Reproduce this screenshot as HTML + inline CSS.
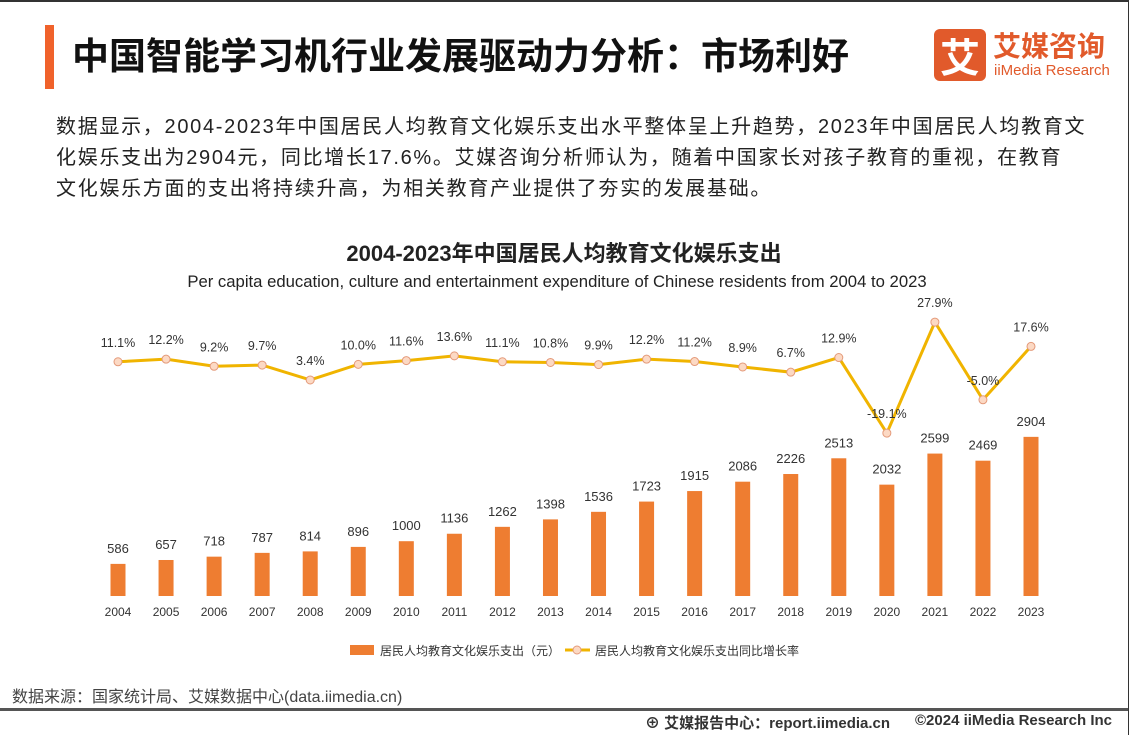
<!DOCTYPE html>
<html><head><meta charset="utf-8"><style>
body{margin:0;width:1134px;height:735px;background:#fff;position:relative;overflow:hidden;font-family:"Liberation Sans","Noto Sans CJK SC",sans-serif;color:#222}
.abs{position:absolute}
</style></head><body>
<div class="abs" style="left:0;top:0;width:1134px;height:2px;background:#333"></div>
<div class="abs" style="left:1128px;top:0;width:6px;height:735px;background:#fff;border-left:1px solid #333"></div>
<div class="abs" style="left:45px;top:25px;width:9px;height:64px;background:#f0622b"></div>
<div class="abs" style="left:72px;top:26px;font-size:37px;font-weight:bold;color:#111;white-space:nowrap;font-family:'Noto Sans CJK SC',sans-serif">中国智能学习机行业发展驱动力分析：市场利好</div>
<div class="abs" style="left:934px;top:29px;width:52px;height:52px;background:#e15a2b;border-radius:6px;color:#fff;font-size:40px;font-weight:bold;text-align:center;line-height:52px;font-family:'Noto Sans CJK SC',sans-serif">艾</div>
<div class="abs" style="left:993px;top:27px;font-size:28px;font-weight:bold;color:#e15a2b;font-family:'Noto Sans CJK SC',sans-serif;line-height:36px">艾媒咨询</div>
<div class="abs" style="left:994px;top:62px;font-size:15px;color:#e15a2b;line-height:18px">iiMedia Research</div>
<div class="abs" style="left:56px;top:112px;width:1070px;white-space:nowrap;font-size:20px;letter-spacing:1.7px;line-height:31px;color:#222;font-family:'Liberation Sans','Noto Sans CJK SC',sans-serif">数据显示，2004-2023年中国居民人均教育文化娱乐支出水平整体呈上升趋势，2023年中国居民人均教育文<br>化娱乐支出为2904元，同比增长17.6%。艾媒咨询分析师认为，随着中国家长对孩子教育的重视，在教育<br>文化娱乐方面的支出将持续升高，为相关教育产业提供了夯实的发展基础。</div>
<div class="abs" style="left:0;width:1128px;top:236px;text-align:center;font-size:22px;font-weight:bold;color:#222">2004-2023年中国居民人均教育文化娱乐支出</div>
<div class="abs" style="left:0;width:1114px;top:272px;text-align:center;font-size:16.7px;color:#222">Per capita education, culture and entertainment expenditure of Chinese residents from 2004 to 2023</div>
<svg class="abs" style="left:0;top:0" width="1134" height="735" id="chart"></svg>
<div class="abs" style="left:12px;top:683px;font-size:16px;color:#444">数据来源：国家统计局、艾媒数据中心(data.iimedia.cn)</div>
<div class="abs" style="left:0;top:708px;width:1128px;height:3px;background:#555"></div>
<div class="abs" style="left:645px;top:712px;font-size:15px;color:#333;font-weight:bold">⊕ 艾媒报告中心：report.iimedia.cn</div>
<div class="abs" style="left:915px;top:712px;font-size:15px;color:#333;font-weight:bold">©2024 iiMedia Research Inc</div>
<script>
const years=["2004","2005","2006","2007","2008","2009","2010","2011","2012","2013","2014","2015","2016","2017","2018","2019","2020","2021","2022","2023"];
const spend=[586,657,718,787,814,896,1000,1136,1262,1398,1536,1723,1915,2086,2226,2513,2032,2599,2469,2904];
const growth=[11.1,12.2,9.2,9.7,3.4,10.0,11.6,13.6,11.1,10.8,9.9,12.2,11.2,8.9,6.7,12.9,-19.1,27.9,-5.0,17.6];
const svg=document.getElementById('chart');
const NS='http://www.w3.org/2000/svg';
function xPos(i){return 118+i*(1031-118)/(years.length-1);}
function yBar(v){return 596-v*0.0548;}
function yRate(v){return 388-v*2.362;}
function mk(t,a,txt){const e=document.createElementNS(NS,t);for(const k in a)e.setAttribute(k,a[k]);if(txt!=null)e.textContent=txt;svg.appendChild(e);return e;}
years.forEach((y,i)=>{
 const x=xPos(i),t=yBar(spend[i]);
 const b=mk('rect',{x:x-7.5,y:t,width:15,height:596-t,fill:'#ee7d31'});
 
 
 const l=mk('text',{x:x,y:t-11,'text-anchor':'middle','font-size':13,fill:'#333','font-family':'Liberation Sans'},String(spend[i]));
 
 
 const xl=mk('text',{x:x,y:616,'text-anchor':'middle','font-size':12,fill:'#333','font-family':'Liberation Sans'},y);
 
 
});
const pts=growth.map((g,i)=>xPos(i)+','+yRate(g)).join(' ');
const pl=mk('polyline',{points:pts,fill:'none',stroke:'#f0b400','stroke-width':3});


growth.forEach((g,i)=>{
 const x=xPos(i),y=yRate(g);
 const c=mk('circle',{cx:x,cy:y,r:4,fill:'#fcd9c4',stroke:'#e49a7a','stroke-width':1});
 
 
 const t=mk('text',{x:x,y:y-15,'text-anchor':'middle','font-size':12.5,fill:'#333','font-family':'Liberation Sans'},g.toFixed(1)+'%');
 
 
});
const lb=mk('rect',{x:350,y:645,width:24,height:10,fill:'#ee7d31'});


const lt1=mk('text',{x:380,y:655,'font-size':12,fill:'#333','font-family':'Liberation Sans, Noto Sans CJK SC, sans-serif'},'居民人均教育文化娱乐支出（元）');


const ll=mk('line',{x1:565,y1:650,x2:590,y2:650,stroke:'#f0b400','stroke-width':3});


const lc=mk('circle',{cx:577,cy:650,r:4,fill:'#fcd9c4',stroke:'#e49a7a'});


const lt2=mk('text',{x:595,y:655,'font-size':12,fill:'#333','font-family':'Liberation Sans, Noto Sans CJK SC, sans-serif'},'居民人均教育文化娱乐支出同比增长率');


</script>
</body></html>
